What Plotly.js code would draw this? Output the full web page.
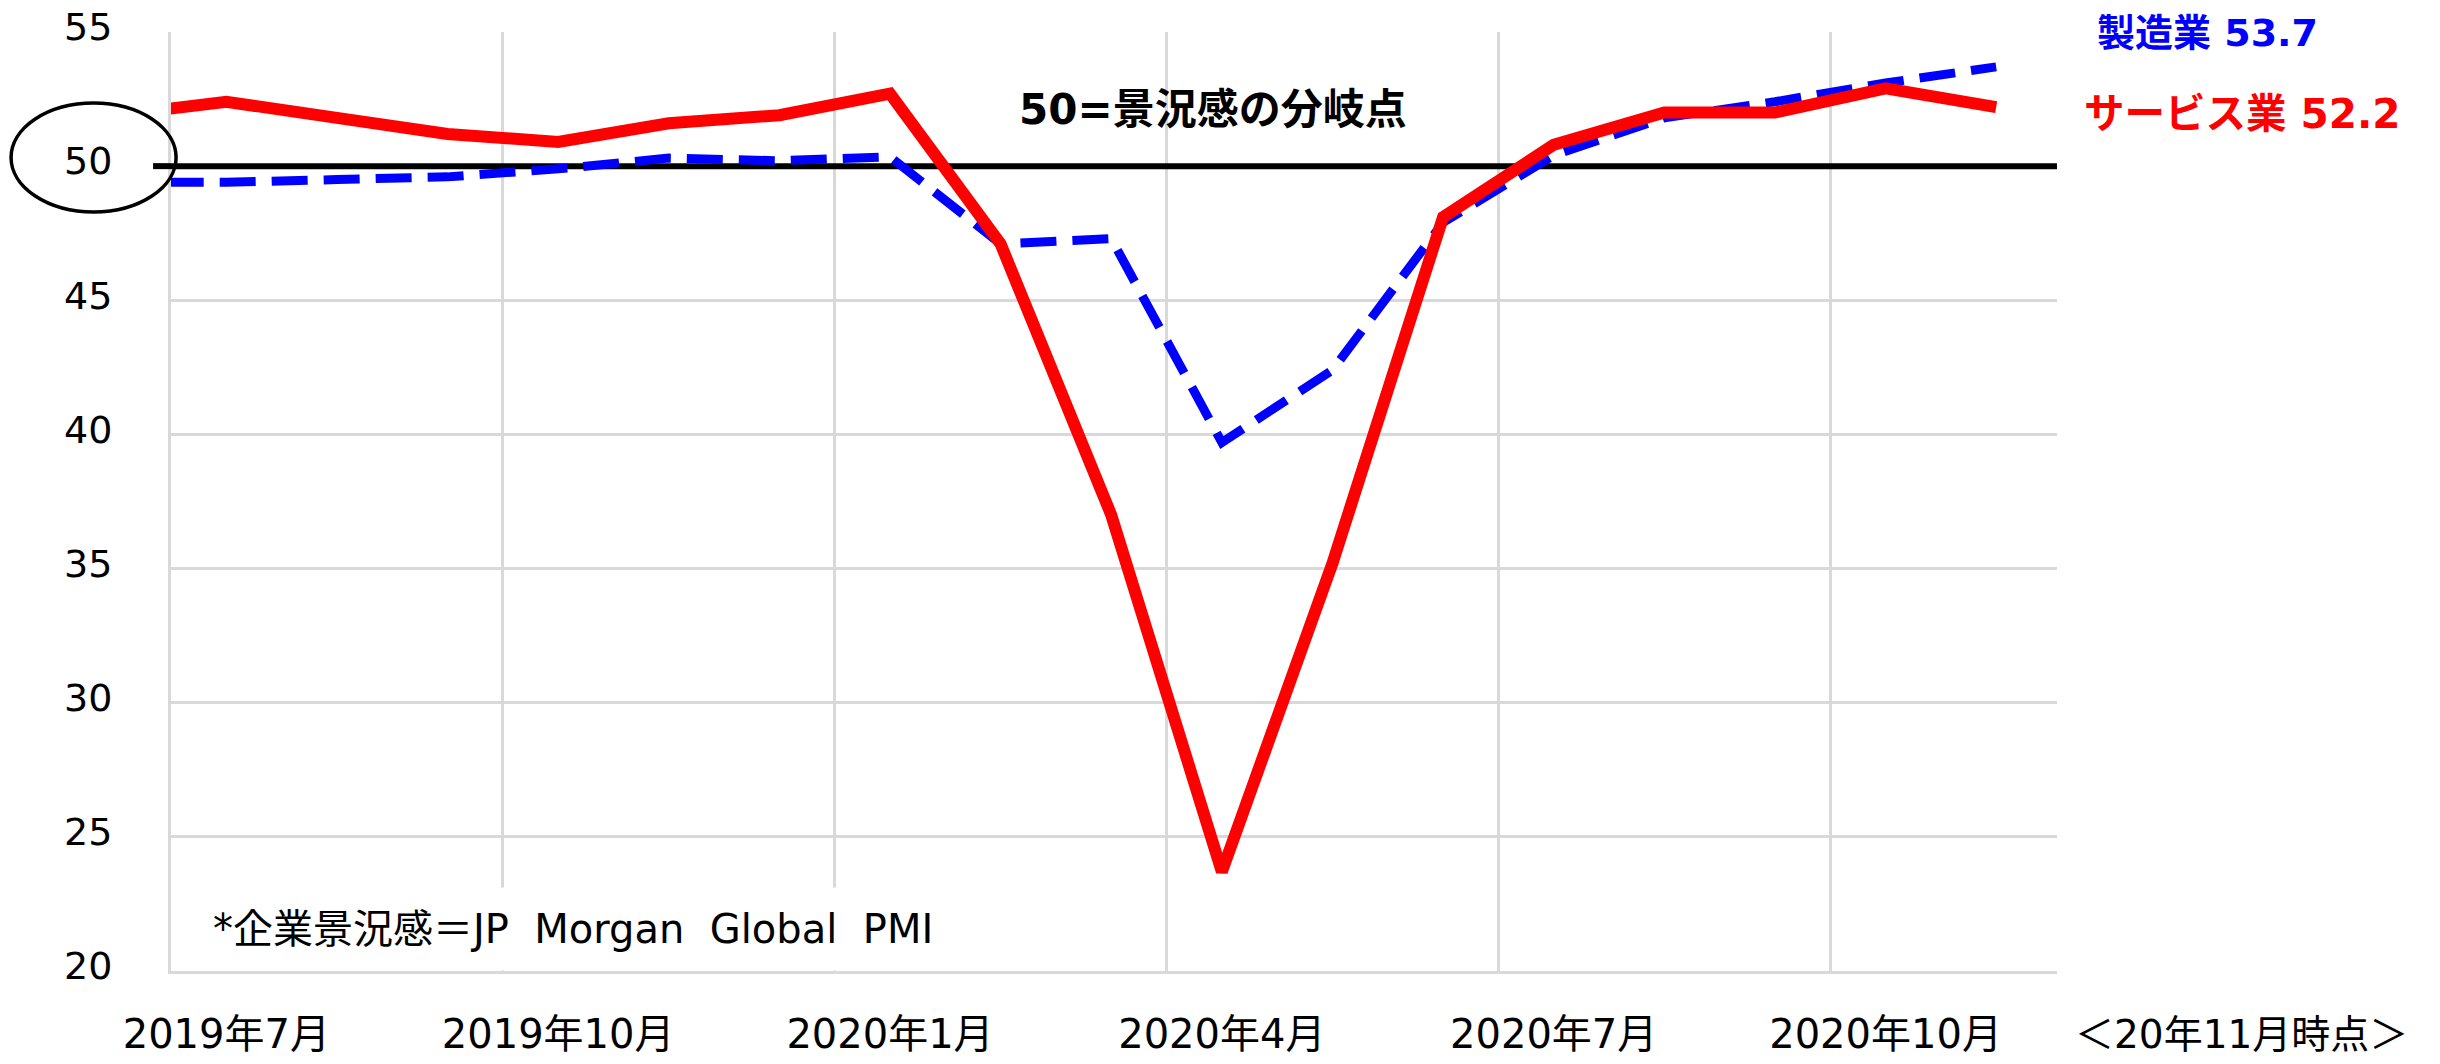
<!DOCTYPE html>
<html>
<head>
<meta charset="utf-8">
<script src="https://cdn.plot.ly/plotly-3.0.1.min.js"></script>
<style>html,body{margin:0;padding:0;background:#fff;}#chart{width:2440px;height:1064px;}</style>
</head>
<body>
<div id="chart"></div>
<script>
// Months (June 2019 is only partly visible at the left edge)
const months = ['2019年6月','2019年7月','2019年8月','2019年9月','2019年10月','2019年11月','2019年12月',
  '2020年1月','2020年2月','2020年3月','2020年4月','2020年5月','2020年6月','2020年7月','2020年8月',
  '2020年9月','2020年10月','2020年11月'];
// Global PMI values
const manufacturing = [49.4, 49.4, 49.5, 49.6, 49.9, 50.3, 50.2, 50.35, 47.1, 47.3, 39.7, 42.4, 47.9, 50.4, 51.8, 52.4, 53.1, 53.7];
const services      = [51.9, 52.4, 51.8, 51.2, 50.9, 51.6, 51.9, 52.7, 47.1, 37.0, 23.7, 35.2, 48.1, 50.8, 52.0, 52.0, 52.9, 52.2];
const tickLabels = ['2019年7月','2019年10月','2020年1月','2020年4月','2020年7月','2020年10月'];
const threshold = 50;
const latestMfg = 53.7, latestSvc = 52.2;
const xRange = [0.5, 17.55];

const xIdx = months.map((m, i) => i);
const tickPos = tickLabels.map(t => months.indexOf(t));
const gridPos = tickPos.map(p => p - 0.5);

const FONT = 'DejaVu Sans, "Noto Sans CJK JP", sans-serif';
const NB = '\u00a0';

const traces = [
  {x: xRange, y: [threshold, threshold], type: 'scatter', mode: 'lines', name: '50',
   line: {color: '#000000', width: 6}, hoverinfo: 'skip'},
  {x: xIdx, y: manufacturing, type: 'scatter', mode: 'lines', name: '製造業',
   line: {color: '#0000ff', width: 9, dash: '36px,16px'}, hoverinfo: 'skip'},
  {x: xIdx, y: services, type: 'scatter', mode: 'lines', name: 'サービス業',
   line: {color: '#ff0000', width: 12}, hoverinfo: 'skip'}
];

const layout = {
  width: 2440, height: 1064,
  margin: {l: 171, r: 383, t: 32, b: 93, pad: 0},
  paper_bgcolor: '#ffffff', plot_bgcolor: '#ffffff',
  showlegend: false,
  font: {family: FONT, size: 38, color: '#000'},
  xaxis: {
    type: 'linear', range: xRange, fixedrange: true,
    tickmode: 'array', tickvals: tickPos, ticktext: tickLabels,
    showgrid: false, zeroline: false, ticks: '',
    showline: true, linecolor: '#d9d9d9', linewidth: 3,
    ticklabelstandoff: 26,
    tickfont: {family: FONT, size: 40, color: '#000'},
    minor: {tickmode: 'array', tickvals: gridPos, showgrid: true, gridcolor: '#d9d9d9', gridwidth: 3, ticks: ''}
  },
  yaxis: {
    range: [20, 55], dtick: 5, tick0: 20, fixedrange: true,
    showgrid: true, gridcolor: '#d9d9d9', gridwidth: 3, zeroline: false,
    showline: true, linecolor: '#d9d9d9', linewidth: 3, ticks: '',
    ticklabelstandoff: 48, ticklabelshift: -5,
    tickfont: {family: FONT, size: 38, color: '#000'}
  },
  shapes: [
    {type: 'line', xref: 'paper', yref: 'y', x0: -0.0095, x1: 0, y0: threshold, y1: threshold,
     line: {color: '#000', width: 6}, layer: 'above'},
    {type: 'circle', xref: 'paper', yref: 'y', x0: -0.0848, x1: 0.0027, y0: 48.29, y1: 52.35,
     line: {color: '#000', width: 3.5}, layer: 'above'}
  ],
  annotations: [
    {text: '<b>' + threshold + '=景況感の分岐点</b>', xref: 'paper', yref: 'paper', x: 0.5525, y: 0.917,
     xanchor: 'center', yanchor: 'middle', showarrow: false, font: {family: FONT, size: 42, color: '#000'}},
    {text: '<b>製造業 ' + latestMfg.toFixed(1) + '</b>', xref: 'paper', yref: 'paper', x: 1.0201, y: 0.999,
     xanchor: 'left', yanchor: 'middle', showarrow: false, font: {family: FONT, size: 38, color: '#0000ff'}},
    {text: '<b>サービス業 ' + latestSvc.toFixed(1) + '</b>', xref: 'paper', yref: 'paper', x: 1.0133, y: 0.9127,
     xanchor: 'left', yanchor: 'middle', showarrow: false, font: {family: FONT, size: 40.5, color: '#ff0000'}},
    {text: '＜20年11月時点＞', xref: 'paper', yref: 'paper', x: 1.0085, y: -0.068,
     xanchor: 'left', yanchor: 'middle', showarrow: false, font: {family: FONT, size: 39, color: '#000'}},
    {text: '*企業景況感＝JP' + NB + NB + 'Morgan' + NB + NB + 'Global' + NB + NB + 'PMI', xref: 'paper', yref: 'paper', x: 0.012, y: 0.0447,
     xanchor: 'left', yanchor: 'middle', showarrow: false, bgcolor: '#ffffff', borderpad: 18,
     font: {family: FONT, size: 40, color: '#000'}}
  ]
};

Plotly.newPlot('chart', traces, layout, {staticPlot: true, displayModeBar: false});
</script>
</body>
</html>
